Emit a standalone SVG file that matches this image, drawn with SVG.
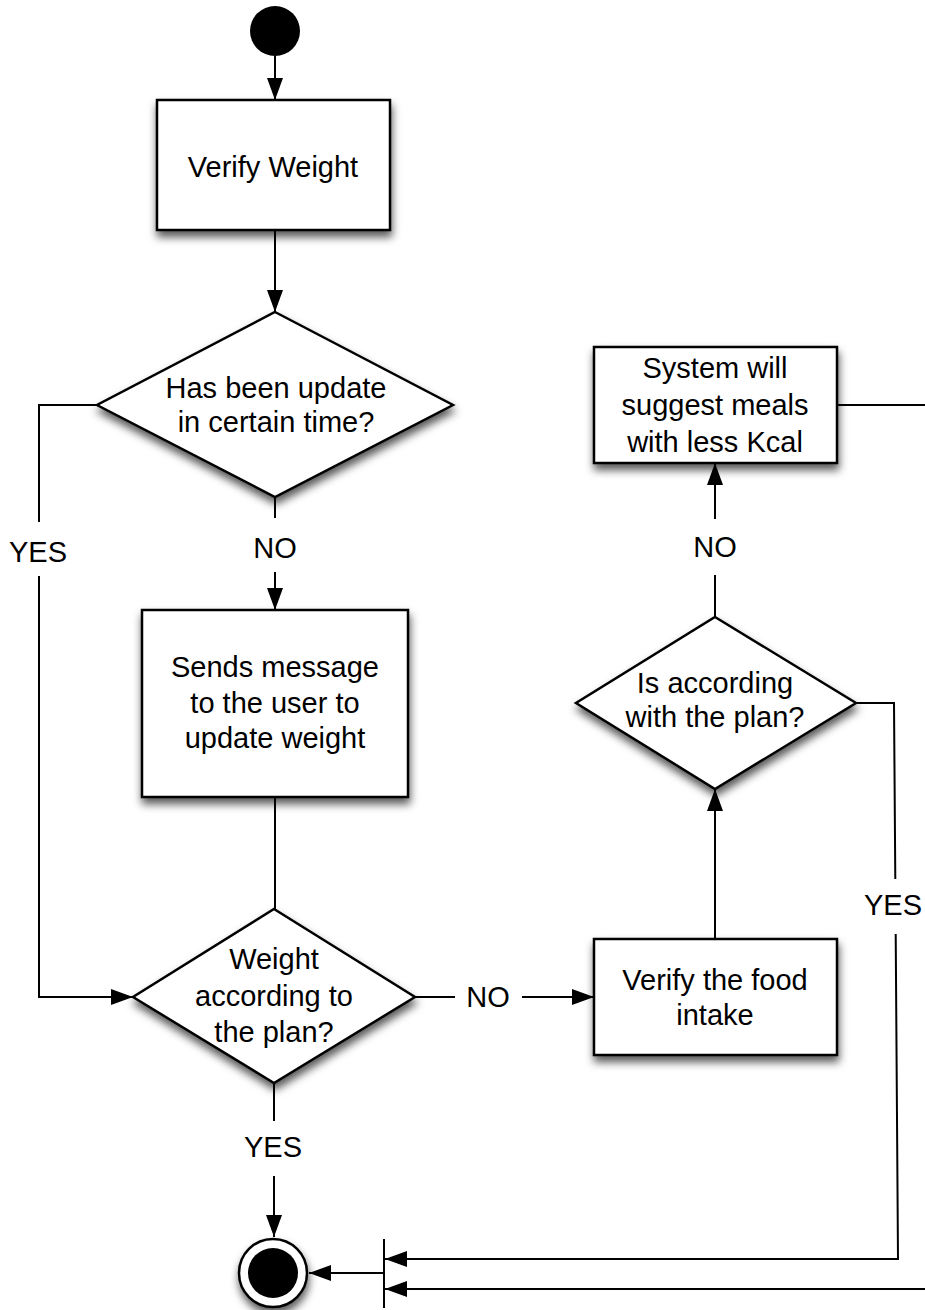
<svg xmlns="http://www.w3.org/2000/svg" width="925" height="1310" viewBox="0 0 925 1310">
  <style>
    .node { fill: #ffffff; stroke: #000000; stroke-width: 2.5; filter: url(#shadow); }
    .label { font-family: "Liberation Sans", Arial, Helvetica, sans-serif; font-size: 29px; fill: #000000; text-anchor: middle; }
    .edge { fill: none; stroke: #000000; stroke-width: 2; }
    .arrow { marker-end: url(#head); }
  </style>
  <defs>
    <filter id="shadow" x="-20%" y="-20%" width="140%" height="150%">
      <feDropShadow dx="1" dy="6" stdDeviation="4.5" flood-color="#000000" flood-opacity="0.65"/>
    </filter>
    <marker id="head" markerUnits="userSpaceOnUse" markerWidth="22" markerHeight="16" refX="22" refY="8" orient="auto">
      <path d="M0,0 L22,8 L0,16 z" fill="#000000"/>
    </marker>
  </defs>

  <rect width="925" height="1310" fill="#ffffff"/>

  <!-- connectors -->
  <g id="connectors">
    <!-- start to Verify Weight -->
    <path class="edge arrow" d="M275,56 L275,100"/>
    <!-- Verify Weight to first decision -->
    <path class="edge arrow" d="M275,230 L275,312"/>
    <!-- first decision, NO branch -->
    <path class="edge" d="M275,497 L275,518"/>
    <path class="edge arrow" d="M275,572 L275,610"/>
    <text class="label" x="275" y="558">NO</text>
    <!-- first decision, YES branch -->
    <path class="edge" d="M97,405 L39,405 L39,522"/>
    <path class="edge arrow" d="M39,576 L39,997 L133,997"/>
    <text class="label" x="38" y="562">YES</text>
    <!-- message box to weight decision -->
    <path class="edge" d="M275,797 L275,909"/>
    <!-- weight decision, NO branch -->
    <path class="edge" d="M415,997 L455,997"/>
    <path class="edge arrow" d="M522,997 L594,997"/>
    <text class="label" x="488" y="1007">NO</text>
    <!-- food intake to plan decision -->
    <path class="edge arrow" d="M715,939 L715,789"/>
    <!-- plan decision, NO branch -->
    <path class="edge" d="M715,617 L715,575"/>
    <path class="edge arrow" d="M715,519 L715,463"/>
    <text class="label" x="715" y="557">NO</text>
    <!-- plan decision, YES branch -->
    <path class="edge" d="M856,703 L894,703 L895.3,879"/>
    <path class="edge arrow" d="M895.7,934 L898,1259 L385,1259"/>
    <text class="label" x="893" y="915">YES</text>
    <!-- suggest meals box out to the join bar -->
    <path class="edge" d="M837,405 L925,405"/>
    <path class="edge arrow" d="M925,1289 L385,1289"/>
    <!-- weight decision, YES branch -->
    <path class="edge" d="M274,1083 L274,1121"/>
    <path class="edge arrow" d="M274,1176 L274,1237"/>
    <text class="label" x="273" y="1157">YES</text>
    <!-- join bar to end -->
    <path class="edge arrow" d="M384,1273 L309,1273"/>
  </g>

  <g id="start">
    <circle cx="275" cy="31" r="25" fill="#000000"/>
  </g>

  <g id="verify-weight">
    <rect class="node" x="157" y="100" width="233" height="130"/>
    <text class="label" x="273" y="177">Verify Weight</text>
  </g>

  <g id="decision-updated">
    <polygon class="node" points="275,312 453,405 275,497 97,405"/>
    <text class="label" x="276" y="398">Has been update</text>
    <text class="label" x="276" y="432">in certain time?</text>
  </g>

  <g id="send-message">
    <rect class="node" x="142" y="610" width="266" height="187"/>
    <text class="label" x="275" y="677">Sends message</text>
    <text class="label" x="275" y="713">to the user to</text>
    <text class="label" x="275" y="748">update weight</text>
  </g>

  <g id="decision-weight">
    <polygon class="node" points="274,909 415,997 274,1083 133,997"/>
    <text class="label" x="274" y="969">Weight</text>
    <text class="label" x="274" y="1006">according to</text>
    <text class="label" x="274" y="1042">the plan?</text>
  </g>

  <g id="verify-food">
    <rect class="node" x="594" y="939" width="243" height="116"/>
    <text class="label" x="715" y="990">Verify the food</text>
    <text class="label" x="715" y="1025">intake</text>
  </g>

  <g id="decision-plan">
    <polygon class="node" points="715,617 856,703 715,789 576,703"/>
    <text class="label" x="715" y="693">Is according</text>
    <text class="label" x="715" y="727">with the plan?</text>
  </g>

  <g id="suggest-meals">
    <rect class="node" x="594" y="347" width="243" height="116"/>
    <text class="label" x="715" y="378">System will</text>
    <text class="label" x="715" y="415">suggest meals</text>
    <text class="label" x="715" y="452">with less Kcal</text>
  </g>

  <g id="join-bar">
    <line x1="384" y1="1239" x2="384" y2="1308" stroke="#000000" stroke-width="2"/>
  </g>

  <g id="end">
    <circle cx="273" cy="1273" r="34" fill="#ffffff" stroke="#000000" stroke-width="2.5" filter="url(#shadow)"/>
    <circle cx="273" cy="1273" r="25" fill="#000000"/>
  </g>
</svg>
